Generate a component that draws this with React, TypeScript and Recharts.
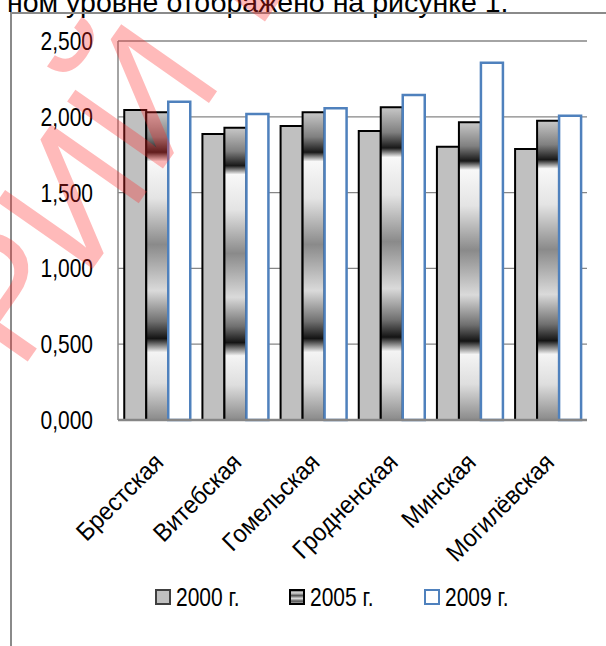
import React from "react";
import { BarChart, Bar, XAxis, YAxis, CartesianGrid } from "recharts";

const regions = ["Брестская", "Витебская", "Гомельская", "Гродненская", "Минская", "Могилёвская"];
const values2000 = [2.045, 1.887, 1.94, 1.906, 1.803, 1.788];
const values2005 = [2.03, 1.928, 2.03, 2.063, 1.964, 1.974];
const values2009 = [2.1, 2.018, 2.056, 2.144, 2.357, 2.007];
const yTicks = [0, 0.5, 1, 1.5, 2, 2.5];
const seriesNames = ["2000 г.", "2005 г.", "2009 г."];

const data = regions.map((name, i) => ({
  name,
  y2000: values2000[i],
  y2005: values2005[i],
  y2009: values2009[i],
}));

const FONT = "'Liberation Sans', Arial, sans-serif";
const AXIS_GRAY = "#868686";
const NARROW = 0.84; // the original uses a condensed face, squeeze the regular one

const fmt = (v: number) => v.toFixed(3).replace(".", ",");

const YTick = (props: any) => {
  const { x, y, payload } = props;
  return (
    <text
      x={0}
      y={0}
      textAnchor="end"
      dy="0.36em"
      fontSize={25}
      fontFamily={FONT}
      fill="#000"
      transform={`translate(${x},${y}) scale(${NARROW},1)`}
    >
      {fmt(payload.value)}
    </text>
  );
};

const XTick = (props: any) => {
  const { x, y, payload } = props;
  return (
    <g transform={`translate(${x - 5},${y + 31}) rotate(-45)`}>
      <text x={0} y={0} dy="0.72em" textAnchor="end" fontSize={25} fontFamily={FONT} fill="#000" transform="scale(0.93,1)">
        {payload.value}
      </text>
    </g>
  );
};

const legendItems = [
  { x: 155, fill: "#c0c0c0", stroke: "#404040" },
  { x: 289, fill: "url(#legendStripes)", stroke: "#000" },
  { x: 424, fill: "#fff", stroke: "#4f81bd" },
];

// gradients shared by the bars and the legend keys
const Gradients = () => (
  <svg width={0} height={0} style={{ position: "absolute", left: 0, top: 0 }}>
    <defs>
      <linearGradient id="legendStripes" x1="0" y1="0" x2="0" y2="1">
        <stop offset="0" stopColor="#444" />
        <stop offset="0.2" stopColor="#ddd" />
        <stop offset="0.4" stopColor="#555" />
        <stop offset="0.6" stopColor="#ddd" />
        <stop offset="0.8" stopColor="#555" />
        <stop offset="1" stopColor="#ccc" />
      </linearGradient>
      <linearGradient id="metal2005" x1="0" y1="0" x2="0" y2="1">
        <stop offset="0" stopColor="#c8c8c8" />
        <stop offset="0.08" stopColor="#808080" />
        <stop offset="0.13" stopColor="#181818" />
        <stop offset="0.16" stopColor="#f8f8f8" />
        <stop offset="0.28" stopColor="#e4e4e4" />
        <stop offset="0.43" stopColor="#8a8a8a" />
        <stop offset="0.58" stopColor="#dadada" />
        <stop offset="0.68" stopColor="#707070" />
        <stop offset="0.735" stopColor="#141414" />
        <stop offset="0.78" stopColor="#f4f4f4" />
        <stop offset="0.88" stopColor="#dedede" />
        <stop offset="1" stopColor="#8a8a8a" />
      </linearGradient>
    </defs>
  </svg>
);

const LegendBox = () => (
  <div style={{ position: "absolute", left: 0, top: 582, width: 606, height: 30 }}>
    {legendItems.map((it, i) => (
      <div key={i} style={{ position: "absolute", left: it.x, top: 0, height: 30, display: "flex", alignItems: "center" }}>
        <svg width={16} height={16} style={{ marginRight: 5 }}>
          <rect x={1} y={1} width={14} height={14} fill={it.fill} stroke={it.stroke} strokeWidth={2} />
        </svg>
        <span
          style={{
            color: "#000",
            lineHeight: "30px",
            fontFamily: FONT,
            fontSize: 25,
            display: "inline-block",
            transform: `scaleX(${NARROW})`,
            transformOrigin: "left center",
            whiteSpace: "nowrap",
          }}
        >
          {seriesNames[i]}
        </span>
      </div>
    ))}
  </div>
);

export default function App() {
  return (
    <div style={{ position: "fixed", left: 0, top: 0, width: 606, height: 646, background: "#fff", overflow: "hidden" }}>
      <Gradients />
      <div style={{ position: "absolute", left: 7, top: -12, fontFamily: FONT, fontSize: 28.5, lineHeight: 1, whiteSpace: "nowrap", color: "#000" }}>
        ном уровне отображено на рисунке 1.
      </div>
      {/* frame of the chart object: left and top edges only are in view */}
      <div style={{ position: "absolute", left: 10, top: 12, width: 2, height: 634, background: "#8a8a8a" }} />
      <div style={{ position: "absolute", left: 10, top: 12, width: 596, height: 2, background: "#8a8a8a" }} />
      <div style={{ position: "absolute", left: 0, top: 0 }}>
        <BarChart
          width={606}
          height={646}
          data={data}
          margin={{ top: 41, right: 19, left: 0, bottom: 64 }}
          barCategoryGap="8%"
          barGap={0}
        >
          <CartesianGrid vertical={false} stroke={AXIS_GRAY} strokeWidth={1.3} />
          <XAxis
            dataKey="name"
            height={162}
            interval={0}
            tickLine={false}
            tickSize={0}
            tickMargin={0}
            axisLine={{ stroke: AXIS_GRAY, strokeWidth: 2.5 }}
            tick={<XTick />}
          />
          <YAxis
            width={118}
            domain={[0, 2.5]}
            ticks={yTicks}
            tickLine={false}
            tickSize={0}
            tickMargin={25}
            axisLine={{ stroke: AXIS_GRAY, strokeWidth: 1.5 }}
            tick={<YTick />}
          />
          <Bar dataKey="y2000" name={seriesNames[0]} fill="#c0c0c0" stroke="#000" strokeWidth={2} isAnimationActive={false} />
          <Bar dataKey="y2005" name={seriesNames[1]} fill="url(#metal2005)" stroke="#000" strokeWidth={2} isAnimationActive={false} />
          <Bar dataKey="y2009" name={seriesNames[2]} fill="#fff" stroke="#4f81bd" strokeWidth={2.5} isAnimationActive={false} />
        </BarChart>
      </div>
      <LegendBox />
      {/* red watermark laid over the page */}
      <svg width={606} height={646} style={{ position: "absolute", left: 0, top: 0, pointerEvents: "none" }}>
        <g transform="translate(-15,-15)">
          <text
            x={240}
            y={95}
            transform="rotate(-55 240 95)"
            textAnchor="end"
            fontFamily={FONT}
            fontSize={170}
            fill="rgba(255,40,40,0.32)"
          >
            РЕПОЗИТОРИЙ
          </text>
          <text
            x={272}
            y={48}
            transform="rotate(-55 272 48)"
            fontFamily={FONT}
            fontSize={170}
            fill="rgba(255,40,40,0.32)"
          >
            БГТУ
          </text>
        </g>
      </svg>
    </div>
  );
}
